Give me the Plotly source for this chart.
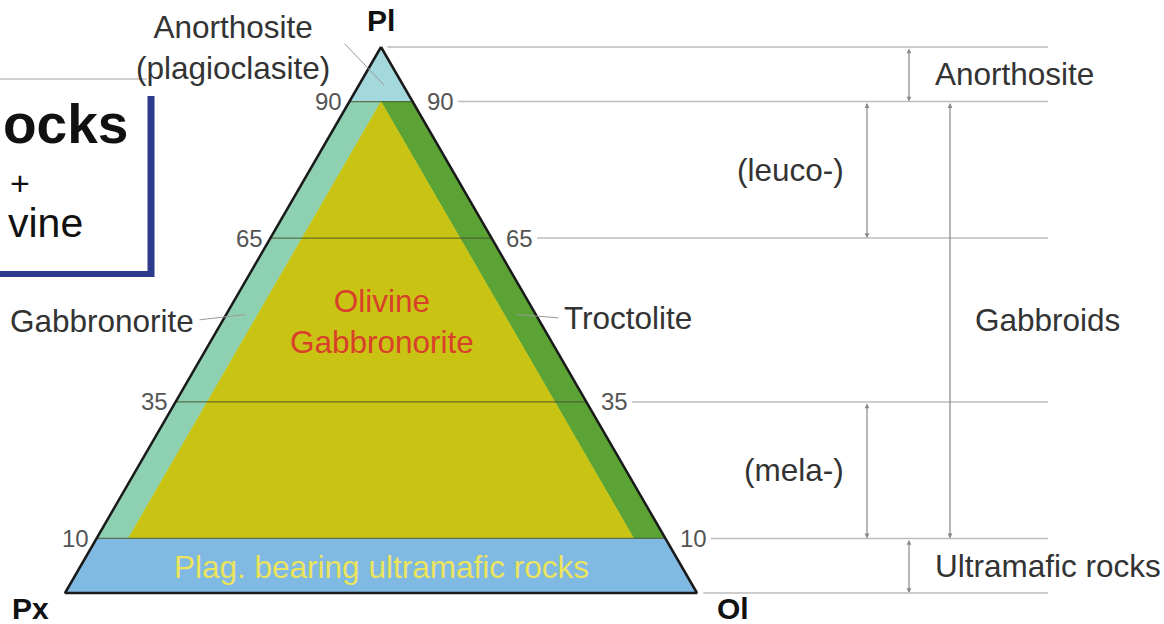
import plotly.graph_objects as go

# ---------------- data: ternary compositions (Pl, Px, Ol) in % ----------------
anorthosite = [(100, 0, 0), (90, 10, 0), (90, 0, 10)]
gabbronorite = [(90, 10, 0), (10, 90, 0), (10, 85, 5), (90, 5, 5)]
troctolite = [(90, 5, 5), (10, 5, 85), (10, 0, 90), (90, 0, 10)]
ol_gabbronorite = [(90, 5, 5), (10, 85, 5), (10, 5, 85)]
ultramafic = [(10, 90, 0), (0, 100, 0), (0, 0, 100), (10, 0, 90)]
outline = [(100, 0, 0), (0, 100, 0), (0, 0, 100), (100, 0, 0)]

pl_levels = [100, 90, 65, 35, 10, 0]          # guide lines extending to the right
tick_levels = [90, 65, 35, 10]
tick_labels = ["90", "65", "35", "10"]
inner_lines = [65, 35]

bracket_names = ["Anorthosite", "(leuco-)", "Gabbroids", "(mela-)", "Ultramafic rocks"]
bracket_top = [100, 90, 90, 35, 10]
bracket_bottom = [90, 65, 10, 10, 0]

vertex_names = ["Pl", "Px", "Ol"]

# ---------------- styling / layout constants ----------------
W, H = 1164, 624
FONT = "Liberation Sans, Arial, sans-serif"
C_ANOR = "#a3d8dc"
C_GN = "#8ed1b2"
C_TR = "#5ba335"
C_OGN = "#c9c413"
C_UM = "#80b9e2"
C_GUIDE = "#bdbdbd"
C_TXT = "#333333"
LBL = 31.5

# axis scaling (x: horizontal composition units, triangle side = 100; y: Pl %)
X0_PX, PXU = 65.0, 6.32
Y0_PX, PYU = 593.0, 5.46
xr = [-X0_PX / PXU, (W - X0_PX) / PXU]
yr = [-(H - Y0_PX) / PYU, Y0_PX / PYU]


def proj(pl, px, ol):
    return ol + pl / 2.0, pl


def poly(pts):
    xs, ys = zip(*[proj(*p) for p in pts])
    xs, ys = list(xs), list(ys)
    return xs + [xs[0]], ys + [ys[0]]


def left_x(pl):
    return proj(pl, 100 - pl, 0)[0]


def right_x(pl):
    return proj(pl, 0, 100 - pl)[0]


def paper(px, py):
    return px / W, 1 - py / H


def ux(px):
    return (px - X0_PX) / PXU


def uy(py):
    return (Y0_PX - py) / PYU


fig = go.Figure()

for pts, col in [(anorthosite, C_ANOR), (gabbronorite, C_GN), (troctolite, C_TR),
                 (ol_gabbronorite, C_OGN), (ultramafic, C_UM)]:
    xs, ys = poly(pts)
    fig.add_trace(go.Scatter(x=xs, y=ys, fill="toself", fillcolor=col, mode="lines",
                             line=dict(color=col, width=0.5), hoverinfo="skip", showlegend=False))

# inner horizontal lines (65, 35) and region boundaries
for p in inner_lines + [90, 10]:
    fig.add_trace(go.Scatter(x=[left_x(p), right_x(p)], y=[p, p], mode="lines",
                             line=dict(color="rgba(70,80,40,0.75)", width=1.2),
                             hoverinfo="skip", showlegend=False))

# right guide lines
END_X = ux(1048)
for p in pl_levels:
    off = 1.0 if p in (100, 0) else 7.2
    fig.add_trace(go.Scatter(x=[right_x(p) + off, END_X], y=[p, p], mode="lines",
                             line=dict(color=C_GUIDE, width=1.5),
                             hoverinfo="skip", showlegend=False))

# triangle outline
xs, ys = zip(*[proj(*p) for p in outline])
fig.add_trace(go.Scatter(x=list(xs), y=list(ys), mode="lines",
                         line=dict(color="#1a1a1a", width=2.5),
                         hoverinfo="skip", showlegend=False))

ann = []
# tick labels
for p, t in zip(tick_levels, tick_labels):
    ann.append(dict(x=left_x(p) - 0.9, y=p, text=t, xanchor="right", yanchor="middle",
                    showarrow=False, font=dict(family=FONT, size=24, color="#555")))
    ann.append(dict(x=right_x(p) + 2.0, y=p, text=t, xanchor="left", yanchor="middle",
                    showarrow=False, font=dict(family=FONT, size=24, color="#555")))

# brackets
bracket_x = [ux(909), ux(867), ux(950), ux(867), ux(909)]
label_x = [ux(933), ux(846), ux(973), ux(846), ux(933)]
label_anchor = ["left", "right", "left", "right", "left"]
for name, bx, t, b, lx, la in zip(bracket_names, bracket_x, bracket_top, bracket_bottom,
                                  label_x, label_anchor):
    ann.append(dict(x=bx, y=b, ax=bx, ay=t, axref="x", ayref="y", text="",
                    showarrow=True, arrowside="end+start", arrowhead=2, arrowsize=0.8,
                    arrowwidth=1.2, arrowcolor="#888"))
    ann.append(dict(x=lx, y=(t + b) / 2.0, text=name, xanchor=la, yanchor="middle",
                    showarrow=False, font=dict(family=FONT, size=LBL, color=C_TXT)))

# region labels
ann.append(dict(x=ux(382), y=uy(321), text="Olivine<br>Gabbronorite", showarrow=False,
                font=dict(family=FONT, size=LBL, color="#d9402b"), align="center"))
ann.append(dict(x=ux(381), y=uy(567), text="Plag. bearing ultramafic rocks", showarrow=False,
                font=dict(family=FONT, size=LBL, color="#ece45c")))
ann.append(dict(x=ux(196), y=uy(321), text="Gabbronorite", xanchor="right", showarrow=False,
                font=dict(family=FONT, size=LBL, color=C_TXT)))
ann.append(dict(x=ux(562), y=uy(318), text="Troctolite", xanchor="left", showarrow=False,
                font=dict(family=FONT, size=LBL, color=C_TXT)))
ann.append(dict(x=ux(233), y=uy(47), text="Anorthosite<br>(plagioclasite)", showarrow=False,
                align="center", font=dict(family=FONT, size=LBL, color=C_TXT)))

# leader lines
for target, tail in [((51, 46, 3), (ux(198), uy(320))), ((51, 3, 46), (ux(560), uy(318))),
                     ((93, 3, 4), (ux(343), uy(42)))]:
    tx, ty = proj(*target)
    ann.append(dict(x=tx, y=ty, ax=tail[0], ay=tail[1], axref="x", ayref="y", text="",
                    showarrow=True, arrowhead=0, arrowwidth=1, arrowcolor="#999"))

# vertex labels
for name, pos in zip(vertex_names, [(ux(381), uy(20)), (ux(30), uy(608)), (ux(733), uy(608))]):
    ann.append(dict(x=pos[0], y=pos[1], text="<b>%s</b>" % name, showarrow=False,
                    font=dict(family=FONT, size=30, color="#111")))

# cut-off title box on the left
for txt, px_, py_, size, bold, anchor in [("ocks", 130, 124, 55, True, "right"),
                                          ("+", 20, 183, 34, False, "center"),
                                          ("vine", 85, 223, 41, False, "right")]:
    x_, y_ = paper(px_, py_)
    ann.append(dict(x=x_, y=y_, xref="paper", yref="paper", text=("<b>%s</b>" % txt) if bold else txt,
                    xanchor=anchor, yanchor="middle", showarrow=False,
                    font=dict(family=FONT, size=size, color="#111")))

shapes = []
x1, y1 = paper(0, 79)
x2, y2 = paper(147, 79)
shapes.append(dict(type="line", xref="paper", yref="paper", x0=x1, y0=y1, x1=x2, y1=y2,
                   line=dict(color="#d0d0d0", width=2)))
x1, y1 = paper(151, 96)
x2, y2 = paper(151, 277)
shapes.append(dict(type="line", xref="paper", yref="paper", x0=x1, y0=y1, x1=x2, y1=y2,
                   line=dict(color="#2e3a8c", width=7)))
x1, y1 = paper(0, 274)
x2, y2 = paper(154, 274)
shapes.append(dict(type="line", xref="paper", yref="paper", x0=x1, y0=y1, x1=x2, y1=y2,
                   line=dict(color="#2e3a8c", width=6)))

fig.update_layout(
    width=W, height=H, margin=dict(l=0, r=0, t=0, b=0),
    paper_bgcolor="white", plot_bgcolor="white",
    xaxis=dict(range=xr, visible=False, fixedrange=True),
    yaxis=dict(range=yr, visible=False, fixedrange=True),
    annotations=ann, shapes=shapes, showlegend=False,
)

fig.write_html("out.html", config={"displayModeBar": False},
               post_script="document.body.style.margin='0';document.body.style.overflow='hidden';")
